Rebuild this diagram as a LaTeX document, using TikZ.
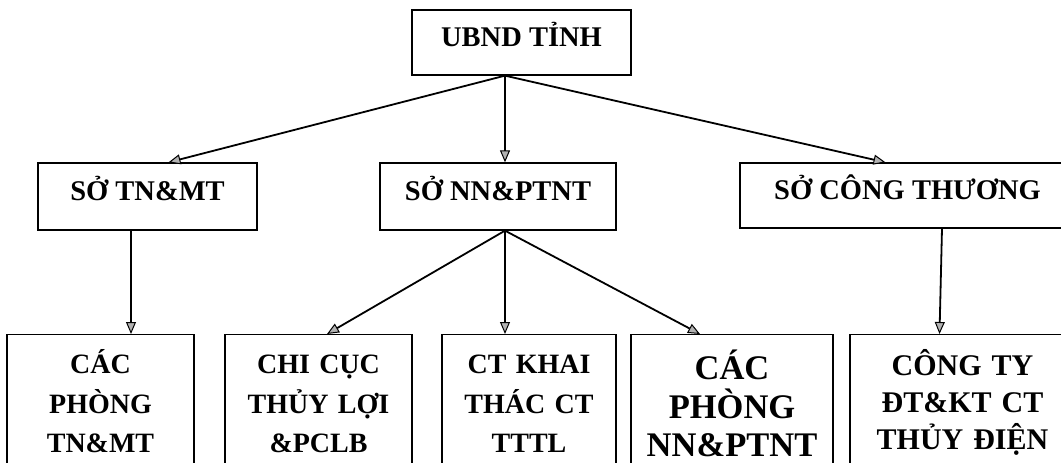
\documentclass[tikz,border=0pt]{standalone}
\usepackage{fontspec}
\setmainfont{Liberation Serif}
\usetikzlibrary{arrows.meta}

\begin{document}
\begin{tikzpicture}[x=1pt,y=-1pt,
  topbox/.style n args={2}{draw,line width=1.3pt,inner sep=0pt,minimum width=#1,minimum height=#2,
    text height=16pt,text depth=8pt,font=\bfseries\fontsize{28.5}{34}\selectfont},
  botbox/.style n args={4}{draw,line width=1.3pt,anchor=north,inner sep=0pt,align=center,
    text width=#1,minimum width=#1,text height=#4,text depth=140pt,
    font=\bfseries\fontsize{#2}{#3}\selectfont},
  arr/.style={line width=1.8pt,-{Triangle[length=12pt,width=10pt,fill=gray!60,line width=1pt]}}]
\clip (0,0) rectangle (1061,463);
% top levels
\node[topbox={219pt}{65pt}] (ubnd) at (521.5,42.5) {UBND TỈNH};
\node[topbox={219pt}{67pt}] (sotn) at (147.5,196.5) {SỞ TN\&MT};
\node[topbox={236pt}{67pt}] (sonn) at (498,196.5) {SỞ NN\&PTNT};
\node[topbox={335pt}{65pt}] (soct) at (907.5,195.5) {SỞ CÔNG THƯƠNG};
% bottom row
\node[botbox={187pt}{28}{39.5}{39pt}] (phongtn) at (100.5,334) {CÁC\\PHÒNG\\TN\&MT};
\node[botbox={187pt}{28}{39.5}{39pt}] (chicuc) at (318.5,334) {CHI CỤC\\THỦY LỢI\\\&PCLB};
\node[botbox={174pt}{28}{39.5}{39pt}] (ctkt) at (529,334) {CT KHAI\\THÁC CT\\TTTL};
\node[botbox={202pt}{34.5}{38.5}{45pt}] (phongnn) at (732,334) {CÁC\\PHÒNG\\NN\&PTNT};
\node[botbox={225pt}{30}{37}{41pt}] (congty) at (962.5,334)
  {\parbox[t]{194pt}{\centering CÔNG TY\\ĐT\&KT CT\\THỦY ĐIỆN}\hspace*{31pt}};
% connectors
\coordinate (ubndhub) at ([xshift=-16.5pt]ubnd.south);
\coordinate (sonnhub) at ([xshift=7pt]sonn.south);
\draw[arr] (ubndhub) -- ([xshift=21pt]sotn.north);
\draw[arr] (ubndhub) -- (ubndhub |- sonn.north);
\draw[arr] (ubndhub) -- ([xshift=-22pt]soct.north);
\draw[arr] ([xshift=-16.5pt]sotn.south) -- ([xshift=30.5pt]phongtn.north);
\draw[arr] (sonnhub) -- ([xshift=8.5pt]chicuc.north);
\draw[arr] (sonnhub) -- (sonnhub |- ctkt.north);
\draw[arr] (sonnhub) -- ([xshift=-32pt]phongnn.north);
\draw[arr] ([xshift=34.5pt]soct.south) -- ([xshift=-23pt]congty.north);
\end{tikzpicture}
\end{document}
